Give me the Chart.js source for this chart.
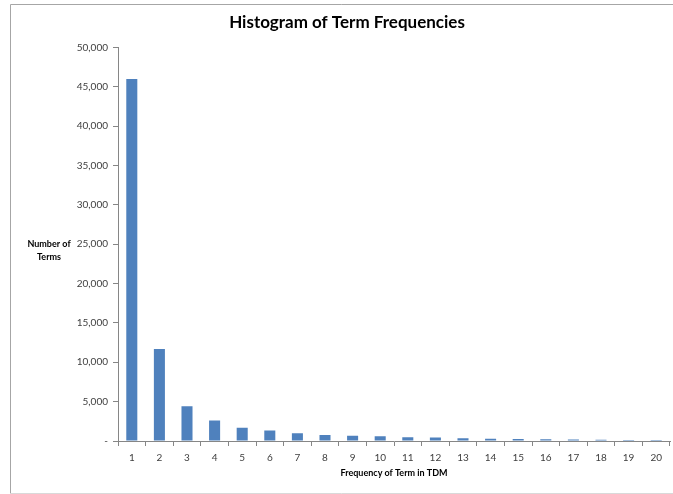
<!DOCTYPE html>
<html>
<head>
<meta charset="utf-8">
<script src="https://cdn.jsdelivr.net/npm/chart.js@4"></script>
<style>
  html, body { margin: 0; padding: 0; background: #fff; }
  #wrap { position: relative; width: 673px; height: 494px; }
</style>
</head>
<body>
<div id="wrap"><canvas id="c" width="673" height="494"></canvas></div>
<script>
const categories = ['1','2','3','4','5','6','7','8','9','10','11','12','13','14','15','16','17','18','19','20'];
const termCounts = [46000, 11700, 4420, 2600, 1680, 1320, 980, 770, 670, 590, 470, 430, 340, 290, 240, 210, 180, 160, 140, 130];
const yTickValues = [0, 5000, 10000, 15000, 20000, 25000, 30000, 35000, 40000, 45000, 50000];
const chartTitle = 'Histogram of Term Frequencies';
const xTitle = 'Frequency of Term in TDM';
const yTitleLines = ['Number of', 'Terms'];

const FONT = 'Lato, "Open Sans", "DejaVu Sans", sans-serif';
const AXIS = '#868686';

const frame = {
  id: 'frame',
  beforeDraw(chart) {
    const ctx = chart.ctx;
    ctx.save();
    ctx.fillStyle = '#fff';
    ctx.fillRect(0, 0, chart.width, chart.height);
    ctx.strokeStyle = '#a6a6a6';
    ctx.lineWidth = 1;
    ctx.beginPath();
    ctx.moveTo(10.5, 493.5);
    ctx.lineTo(10.5, 4.5);
    ctx.lineTo(673, 4.5);
    ctx.stroke();
    ctx.strokeStyle = '#d9d9d9';
    ctx.beginPath();
    ctx.moveTo(10.5, 493.5);
    ctx.lineTo(673, 493.5);
    ctx.stroke();
    ctx.restore();
  },
  afterDraw(chart) {
    const ctx = chart.ctx;
    const ys = chart.scales.y;
    const mid = (ys.top + ys.bottom) / 2;
    ctx.save();
    ctx.fillStyle = '#000';
    ctx.font = 'bold 9px ' + FONT;
    ctx.textAlign = 'center';
    ctx.textBaseline = 'middle';
    ctx.fillText(yTitleLines[0], 49, mid);
    ctx.fillText(yTitleLines[1], 49, mid + 12.5);
    ctx.restore();
  }
};

new Chart(document.getElementById('c'), {
  type: 'bar',
  data: {
    labels: categories,
    datasets: [{
      data: termCounts,
      backgroundColor: '#4F81BD',
      borderWidth: 0,
      barPercentage: 0.4,
      categoryPercentage: 1.0
    }]
  },
  options: {
    responsive: false,
    animation: false,
    layout: { padding: { left: 24, right: 3, top: 0, bottom: 0 } },
    plugins: {
      legend: { display: false },
      tooltip: { enabled: false },
      title: {
        display: true,
        text: chartTitle,
        color: '#000',
        font: { family: FONT, size: 17, weight: 'bold', lineHeight: 1.2 },
        padding: { top: 12, bottom: 15 }
      }
    },
    scales: {
      x: {
        grid: { display: true, drawOnChartArea: false, color: AXIS, tickLength: 5, offset: true },
        border: { display: true, color: AXIS, width: 1 },
        ticks: { color: '#404040', font: { family: FONT, size: 10 }, padding: 6, maxRotation: 0, autoSkip: false },
        title: { display: true, text: xTitle, color: '#000', font: { family: FONT, size: 9, weight: 'bold' }, padding: { top: 0, bottom: 16 } },
        afterFit(scale) { scale.height = 494 - 441; }
      },
      y: {
        min: 0,
        max: 50000,
        afterBuildTicks(scale) { scale.ticks = yTickValues.map(v => ({ value: v })); },
        grid: { display: true, drawOnChartArea: false, color: AXIS, tickLength: 5 },
        border: { display: true, color: AXIS, width: 1 },
        ticks: {
          color: '#404040',
          font: { family: FONT, size: 10 },
          padding: 5,
          callback(v) { return v === 0 ? '-' : Number(v).toLocaleString('en-US'); }
        },
        afterFit(scale) { scale.width = 94; }
      }
    }
  },
  plugins: [frame]
});
</script>
</body>
</html>
